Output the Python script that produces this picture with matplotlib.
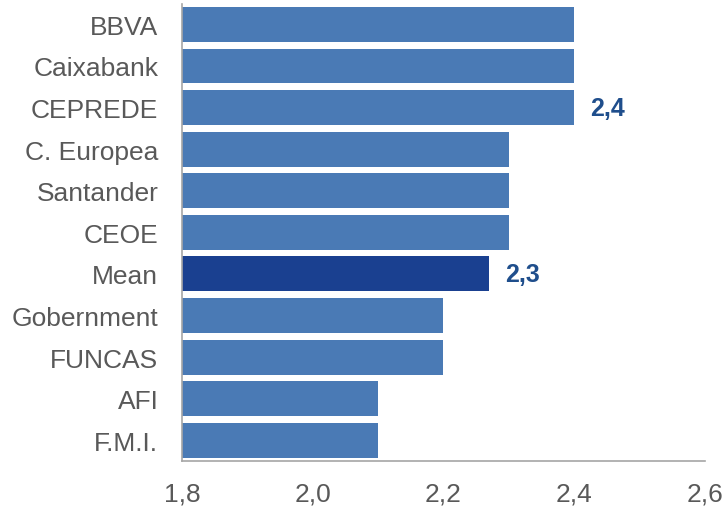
import matplotlib.pyplot as plt

plt.rcParams['font.family'] = ['Liberation Sans', 'DejaVu Sans']

names = ['BBVA', 'Caixabank', 'CEPREDE', 'C. Europea', 'Santander', 'CEOE',
         'Mean', 'Gobernment', 'FUNCAS', 'AFI', 'F.M.I.']
growth = [2.4, 2.4, 2.4, 2.3, 2.3, 2.3, 2.27, 2.2, 2.2, 2.1, 2.1]
labels = {'CEPREDE': '2,4', 'Mean': '2,3'}
xticks = [1.8, 2.0, 2.2, 2.4, 2.6]

fig = plt.figure(figsize=(7.27, 5.10), dpi=100)
ax = fig.add_axes([0.2503, 0.094, 0.7194, 0.897])

pos = list(range(len(names)))[::-1]
colors = ['#1A4090' if n == 'Mean' else '#4A7AB5' for n in names]
widths = [g - 1.8 for g in growth]
ax.barh(pos, widths, left=1.8, height=0.84, color=colors)

for p, n, g in zip(pos, names, growth):
    if n in labels:
        ax.text(g + 0.025, p, labels[n], va='center', ha='left',
                fontsize=18, fontweight='bold', color='#1F4E8C')

ax.set_xlim(1.8, 2.6)
ax.set_ylim(-0.5, len(names) - 0.5)
ax.set_yticks(pos)
ax.set_yticklabels(names)
ax.set_xticks(xticks)
ax.set_xticklabels([f'{t:.1f}'.replace('.', ',') for t in xticks])
ax.tick_params(axis='both', length=0, labelsize=19, labelcolor='#595959')
ax.tick_params(axis='y', pad=17)
ax.tick_params(axis='x', pad=15)

for s in ['top', 'right']:
    ax.spines[s].set_visible(False)
for s in ['left', 'bottom']:
    ax.spines[s].set_color('#A6A6A6')
    ax.spines[s].set_linewidth(1.2)

fig.savefig('out.png', dpi=100)
